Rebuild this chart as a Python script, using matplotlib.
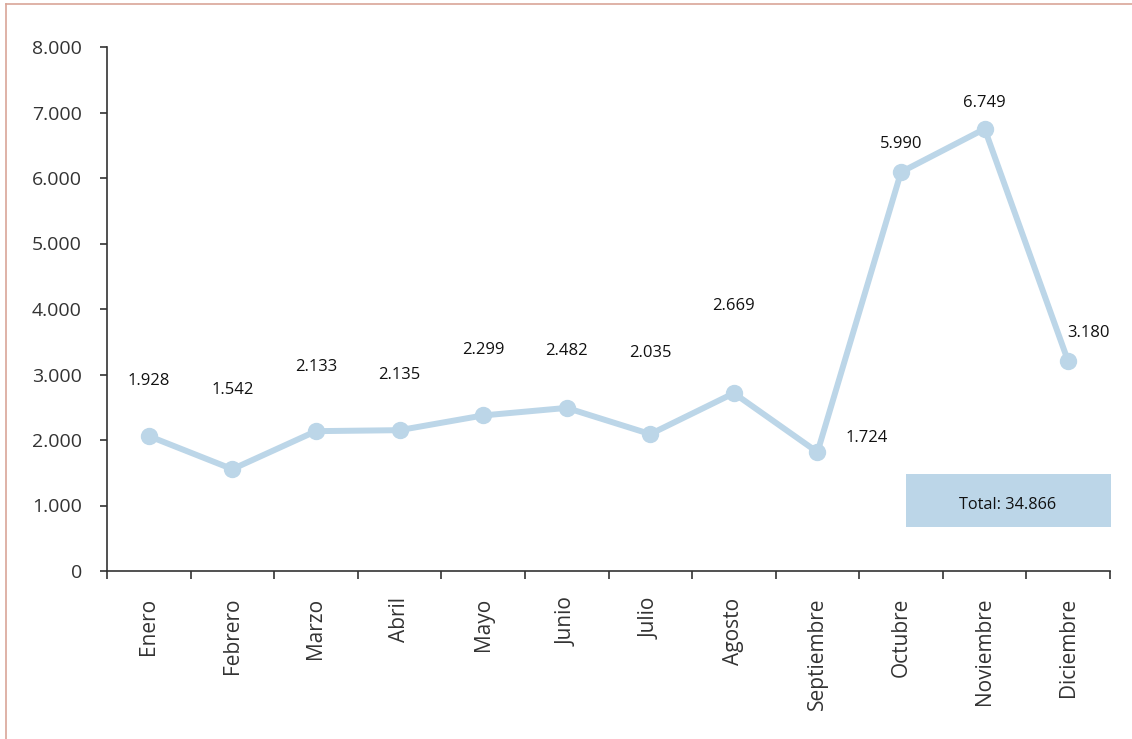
import numpy as np
import matplotlib
matplotlib.use("Agg")
import matplotlib.pyplot as plt
from matplotlib.lines import Line2D
from matplotlib.patches import Rectangle

# data
months = ["Enero", "Febrero", "Marzo", "Abril", "Mayo", "Junio", "Julio",
          "Agosto", "Septiembre", "Octubre", "Noviembre", "Diciembre"]
plotted = [2060, 1555, 2135, 2150, 2375, 2490, 2090, 2715, 1815, 6090, 6750, 3200]
labels = ["1.928", "1.542", "2.133", "2.135", "2.299", "2.482", "2.035",
          "2.669", "1.724", "5.990", "6.749", "3.180"]
total_text = "Total: 34.866"
yticks = [0, 1000, 2000, 3000, 4000, 5000, 6000, 7000, 8000]
ytick_labels = ["0", "1.000", "2.000", "3.000", "4.000", "5.000", "6.000", "7.000", "8.000"]

# label placement (pixel offsets from each point)
label_offsets = [(0, 55), (0, 79), (0, 64), (0, 55), (0, 65), (0, 57),
                 (0, 81), (0, 87), (49, 14), (0, 28), (0, 26), (20, 28)]

line_color = "#bcd6e8"
axis_color = "#333333"
plt.rcParams["font.family"] = ["Open Sans", "DejaVu Sans"]

fig = plt.figure(figsize=(11.32, 7.39), dpi=100)
ax = fig.add_axes([107/1132, 1-571/739, (1110-107)/1132, (571-47)/739])

x = np.arange(len(months))
ax.plot(x, plotted, color=line_color, lw=4.3, marker="o", ms=11.5,
        solid_joinstyle="round", zorder=3)

for xi, yi, lab, (dx, dy) in zip(x, plotted, labels, label_offsets):
    ax.annotate(lab, (xi, yi), xytext=(dx, dy), textcoords="offset pixels",
                ha="center", va="center", fontsize=12, color="#111111")

ax.set_xlim(-0.5, len(months) - 0.5)
ax.set_ylim(0, 8000)

ax.set_yticks(yticks)
ax.set_yticklabels(ytick_labels)
ax.set_xticks(x)
ax.set_xticklabels(months, rotation=90, va="top")
ax.set_xticks(np.arange(-0.5, len(months)), minor=True)
ax.tick_params(axis="x", which="major", length=0, pad=19, labelsize=15,
               labelcolor=axis_color)
ax.tick_params(axis="x", which="minor", length=6, width=1.2, color=axis_color,
               direction="out")
ax.tick_params(axis="y", length=5, width=1.2, color=axis_color, pad=13,
               labelsize=14, labelcolor=axis_color)

for s in ["top", "right"]:
    ax.spines[s].set_visible(False)
for s in ["left", "bottom"]:
    ax.spines[s].set_color(axis_color)
    ax.spines[s].set_linewidth(1.2)

# total box
box = Rectangle((906/1132, 1-527/739), (1111-906)/1132, (527-474)/739,
                transform=fig.transFigure, facecolor=line_color, edgecolor="none")
fig.add_artist(box)
fig.text(1008/1132, 1-505/739, total_text, ha="center", va="center",
         fontsize=11.7, color="#111111")

# page frame lines
frame = "#d9a698"
fig.add_artist(Line2D([6/1132, 1], [1-4/739, 1-4/739], color=frame, lw=1.2))
fig.add_artist(Line2D([6/1132, 6/1132], [0, 1-4/739], color=frame, lw=1.2))

fig.savefig("out.png", dpi=100)
